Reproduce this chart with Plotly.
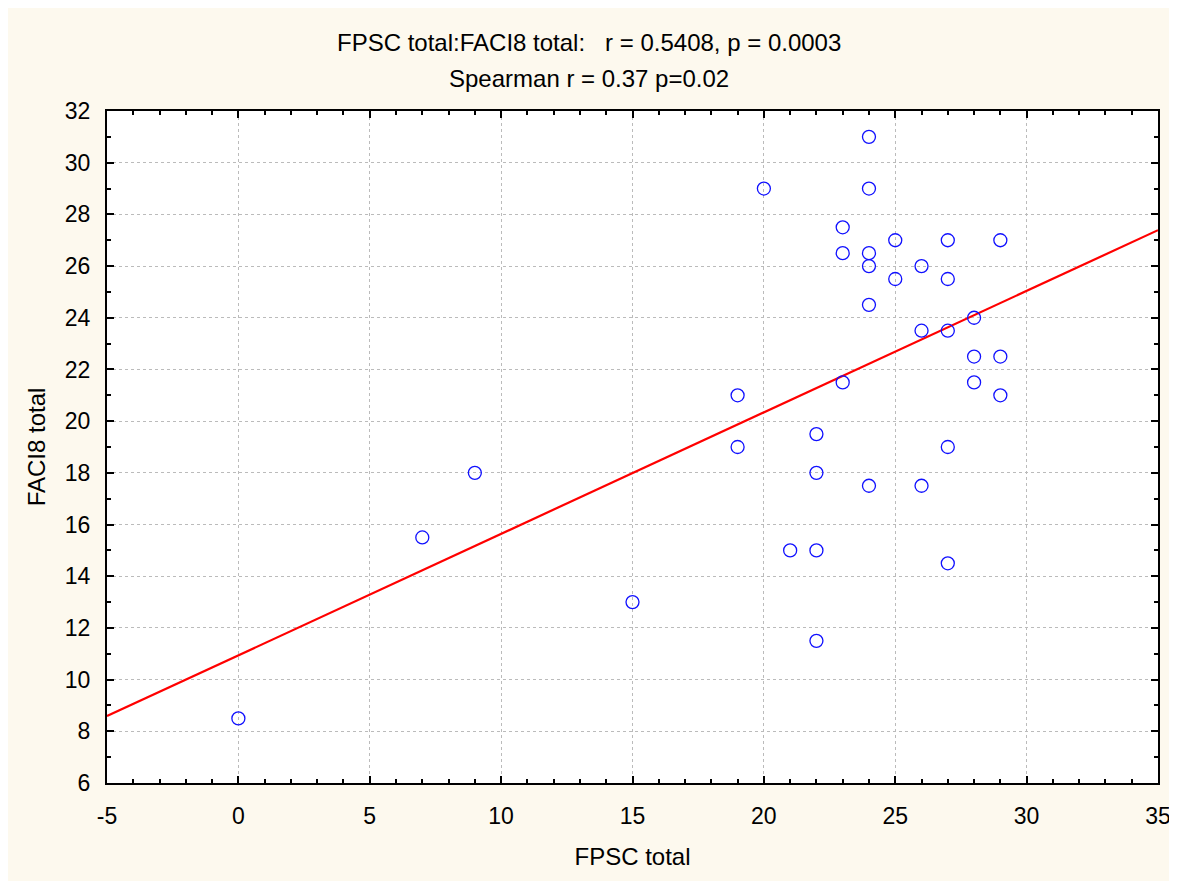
import plotly.graph_objects as go
import numpy as np

# Data
fpsc_total = [0, 7, 9, 15, 19, 19, 20, 21, 22, 22, 22, 22, 23, 23, 23,
              24, 24, 24, 24, 24, 24, 25, 25, 26, 26, 26, 27, 27, 27, 27, 27,
              28, 28, 28, 29, 29, 29]
faci8_total = [8.5, 15.5, 18, 13, 21, 19, 29, 15, 19.5, 18, 15, 11.5, 27.5, 26.5, 21.5,
               31, 29, 26.5, 26, 24.5, 17.5, 27, 25.5, 26, 23.5, 17.5, 27, 25.5, 23.5, 19, 14.5,
               24, 22.5, 21.5, 27, 22.5, 21]
fit_intercept = 10.94
fit_slope = 0.47

x_range = [-5, 35]
y_range = [6, 32]
x_tick_vals = [-5, 0, 5, 10, 15, 20, 25, 30, 35]
x_tick_labels = ["-5", "0", "5", "10", "15", "20", "25", "30", "35"]

title_line1 = "FPSC total:FACI8 total:   r = 0.5408, p = 0.0003"
title_line2 = "Spearman r = 0.37 p=0.02"

cream = "#FDF9EE"
font_family = "Liberation Sans, Arial, sans-serif"

fig = go.Figure()

xf = np.array(x_range, dtype=float)
fig.add_trace(go.Scatter(x=xf, y=fit_intercept + fit_slope * xf, mode="lines",
                         line=dict(color="#FF0000", width=2.2), hoverinfo="skip",
                         showlegend=False))
fig.add_trace(go.Scatter(x=fpsc_total, y=faci8_total, mode="markers",
                         marker=dict(symbol="circle-open", size=13, color="#1010FF",
                                     line=dict(width=1.3, color="#1010FF")),
                         showlegend=False))

L, R, T, B = 99, 27, 103, 106
W, H = 1177, 881
pw, ph = W - L - R, H - T - B

fig.add_annotation(text=title_line1, xref="paper", yref="paper",
                   x=(581 - L) / pw, y=(H - B - 34) / ph, showarrow=False,
                   xanchor="center", yanchor="middle",
                   font=dict(size=24, color="black", family=font_family))
fig.add_annotation(text=title_line2, xref="paper", yref="paper",
                   x=(581 - L) / pw, y=(H - B - 70) / ph, showarrow=False,
                   xanchor="center", yanchor="middle",
                   font=dict(size=24, color="black", family=font_family))

axis_common = dict(
    showline=True, linecolor="black", linewidth=2, mirror="allticks",
    ticks="inside", ticklen=7, tickwidth=2, tickcolor="black",
    showgrid=True, gridcolor="#BBBBBB", griddash="dot", gridwidth=1,
    zeroline=False, tickfont=dict(size=23, color="black", family=font_family),
)

fig.update_xaxes(range=x_range, tickmode="array", tickvals=x_tick_vals, ticktext=x_tick_labels,
                 minor=dict(dtick=1, tick0=0, ticks="inside", ticklen=4, tickwidth=2,
                            tickcolor="black", showgrid=False),
                 title=dict(text="FPSC total", standoff=21,
                            font=dict(size=24, color="black", family=font_family)),
                 ticklabelstandoff=11,
                 **axis_common)
fig.update_yaxes(range=y_range, dtick=2, tick0=0,
                 minor=dict(dtick=1, ticks="inside", ticklen=4, tickwidth=2,
                            tickcolor="black", showgrid=False),
                 title=dict(text="FACI8 total", standoff=12,
                            font=dict(size=24, color="black", family=font_family)),
                 ticklabelstandoff=10,
                 **axis_common)

fig.update_layout(width=W, height=H, margin=dict(l=L, r=R, t=T, b=B, autoexpand=False),
                  paper_bgcolor=cream, plot_bgcolor="white",
                  font=dict(family=font_family, color="black"))

fig.write_html("out.html", default_width="1177px", default_height="881px")
